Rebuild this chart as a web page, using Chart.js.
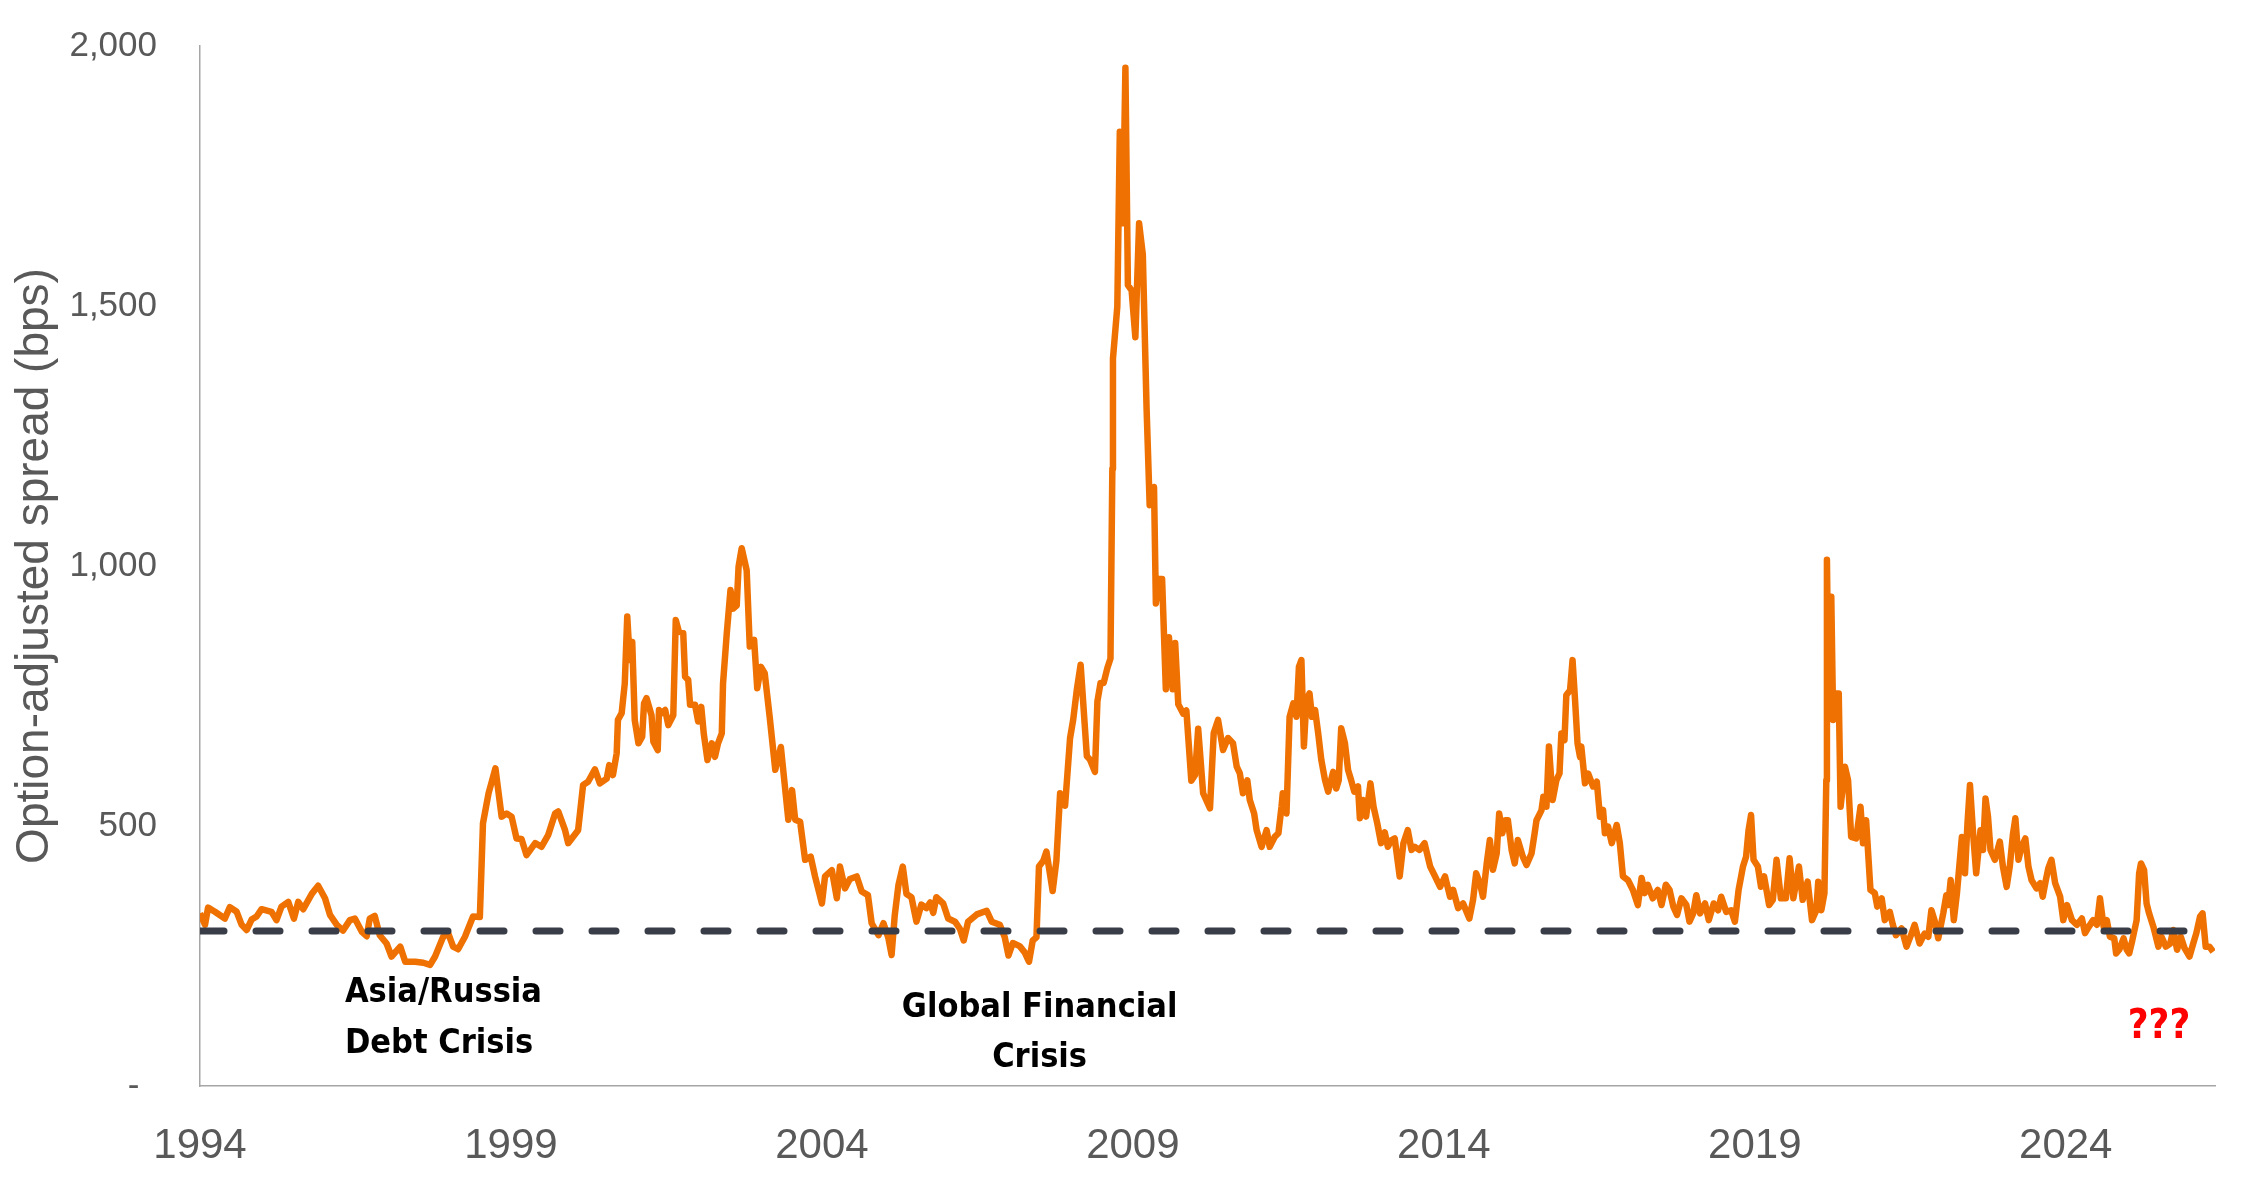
<!DOCTYPE html>
<html>
<head>
<meta charset="utf-8">
<script src="https://cdn.jsdelivr.net/npm/chart.js@4.4.1/dist/chart.umd.min.js"></script>
<style>
  html, body { margin: 0; padding: 0; background: #fff; }
  canvas { display: block; }
</style>
</head>
<body>
<canvas id="oasChart" width="2251" height="1197"></canvas>
<script>
// Option-adjusted spread (decimal year / bps)
const dates = [
  1994.00, 1994.08, 1994.13, 1994.24, 1994.40, 1994.48, 1994.59, 1994.67, 1994.75, 1994.83, 1994.91, 1994.99,
  1995.15, 1995.23, 1995.31, 1995.42, 1995.51, 1995.58, 1995.66, 1995.80, 1995.90,
  1996.01, 1996.09, 1996.20, 1996.30, 1996.41, 1996.49, 1996.60, 1996.68, 1996.73, 1996.81, 1996.89,
  1997.00, 1997.08, 1997.22, 1997.30, 1997.46, 1997.59, 1997.70, 1997.78, 1997.91, 1997.99,
  1998.07, 1998.15, 1998.26, 1998.39, 1998.50, 1998.55, 1998.64, 1998.75, 1998.85, 1998.93,
  1999.01, 1999.09, 1999.17, 1999.25, 1999.39, 1999.49, 1999.60, 1999.71, 1999.76, 1999.87, 1999.92,
  2000.08, 2000.16, 2000.24, 2000.35, 2000.43, 2000.54, 2000.58, 2000.64, 2000.70, 2000.72, 2000.78, 2000.83, 2000.87, 2000.91, 2000.95, 2000.99,
  2001.05, 2001.11, 2001.14, 2001.18, 2001.26, 2001.29, 2001.36, 2001.38, 2001.42, 2001.48, 2001.53, 2001.61, 2001.65, 2001.70, 2001.77, 2001.80, 2001.85, 2001.88, 2001.96,
  2002.01, 2002.06, 2002.10, 2002.16, 2002.23, 2002.28, 2002.33, 2002.39, 2002.41, 2002.47, 2002.53, 2002.57, 2002.63, 2002.66, 2002.71, 2002.79, 2002.84, 2002.91, 2002.96,
  2003.02, 2003.08, 2003.16, 2003.25, 2003.34, 2003.46, 2003.52, 2003.57, 2003.65, 2003.73, 2003.82, 2003.89,
  2004.00, 2004.05, 2004.16, 2004.24, 2004.29, 2004.37, 2004.45, 2004.56, 2004.64, 2004.74, 2004.80, 2004.91, 2004.99,
  2005.07, 2005.12, 2005.17, 2005.23, 2005.30, 2005.36, 2005.44, 2005.52, 2005.60, 2005.68, 2005.74, 2005.79, 2005.84, 2005.95,
  2006.03, 2006.14, 2006.22, 2006.28, 2006.35, 2006.49, 2006.65, 2006.73, 2006.86, 2006.94,
  2007.00, 2007.07, 2007.18, 2007.26, 2007.33, 2007.39, 2007.45, 2007.49, 2007.56, 2007.61, 2007.71, 2007.77, 2007.83, 2007.91, 2007.99,
  2008.04, 2008.10, 2008.16, 2008.20, 2008.26, 2008.31, 2008.39, 2008.43, 2008.48, 2008.53, 2008.59, 2008.64, 2008.67, 2008.68, 2008.75, 2008.79, 2008.84, 2008.88, 2008.92, 2008.98,
  2009.04, 2009.10, 2009.16, 2009.22, 2009.27, 2009.34, 2009.37, 2009.42, 2009.47, 2009.53, 2009.58, 2009.64, 2009.68, 2009.73, 2009.81, 2009.86, 2009.94,
  2010.00, 2010.05, 2010.13, 2010.24, 2010.30, 2010.37, 2010.45, 2010.53, 2010.61, 2010.67, 2010.72, 2010.77, 2010.84, 2010.88, 2010.95, 2010.99,
  2011.07, 2011.15, 2011.20, 2011.28, 2011.34, 2011.39, 2011.41, 2011.47, 2011.52, 2011.58, 2011.63, 2011.67, 2011.71, 2011.75, 2011.79, 2011.84, 2011.88, 2011.93, 2011.98,
  2012.03, 2012.09, 2012.14, 2012.22, 2012.27, 2012.31, 2012.35, 2012.41, 2012.46, 2012.51, 2012.56, 2012.62, 2012.65, 2012.70, 2012.75, 2012.82, 2012.87, 2012.93, 2012.99,
  2013.05, 2013.10, 2013.16, 2013.21, 2013.29, 2013.35, 2013.42, 2013.48, 2013.53, 2013.61, 2013.69, 2013.78, 2013.86, 2013.94,
  2014.02, 2014.10, 2014.15, 2014.23, 2014.31, 2014.41, 2014.47, 2014.52, 2014.58, 2014.63, 2014.69, 2014.74, 2014.79, 2014.85, 2014.89, 2014.94, 2014.99,
  2015.03, 2015.09, 2015.14, 2015.19, 2015.27, 2015.33, 2015.41, 2015.46, 2015.49, 2015.57, 2015.60, 2015.65, 2015.69, 2015.75, 2015.81, 2015.86, 2015.89, 2015.94, 2015.97,
  2016.03, 2016.07, 2016.11, 2016.15, 2016.19, 2016.21, 2016.27, 2016.32, 2016.40, 2016.46, 2016.51, 2016.56, 2016.59, 2016.64, 2016.70, 2016.78, 2016.83, 2016.88, 2016.96,
  2017.04, 2017.12, 2017.18, 2017.23, 2017.28, 2017.36, 2017.44, 2017.50, 2017.57, 2017.63, 2017.69, 2017.75, 2017.82, 2017.90, 2017.95,
  2018.01, 2018.06, 2018.12, 2018.20, 2018.26, 2018.34, 2018.41, 2018.46, 2018.54, 2018.62, 2018.68, 2018.74, 2018.81, 2018.86, 2018.90, 2018.94, 2018.98,
  2019.05, 2019.10, 2019.15, 2019.23, 2019.29, 2019.35, 2019.42, 2019.50, 2019.56, 2019.62, 2019.71, 2019.77, 2019.85, 2019.92, 2019.99,
  2020.02, 2020.07, 2020.12, 2020.15, 2020.16, 2020.19, 2020.23, 2020.26, 2020.31, 2020.35, 2020.38, 2020.45, 2020.50, 2020.55, 2020.63, 2020.70, 2020.74, 2020.79, 2020.86, 2020.93, 2020.97,
  2021.04, 2021.09, 2021.17, 2021.22, 2021.27, 2021.36, 2021.44, 2021.52, 2021.57, 2021.65, 2021.73, 2021.79, 2021.84, 2021.89, 2021.95,
  2022.03, 2022.08, 2022.11, 2022.15, 2022.20, 2022.25, 2022.33, 2022.38, 2022.42, 2022.46, 2022.51, 2022.56, 2022.63, 2022.67, 2022.71, 2022.75, 2022.79, 2022.86, 2022.94, 2022.99,
  2023.05, 2023.10, 2023.15, 2023.19, 2023.24, 2023.29, 2023.35, 2023.40, 2023.45, 2023.53, 2023.59, 2023.63, 2023.68, 2023.72, 2023.77, 2023.83, 2023.91, 2023.96,
  2024.02, 2024.10, 2024.18, 2024.26, 2024.31, 2024.37, 2024.44, 2024.50, 2024.55, 2024.61, 2024.66, 2024.71, 2024.78, 2024.81, 2024.86, 2024.93, 2024.98,
  2025.02, 2025.07, 2025.14, 2025.18, 2025.21, 2025.26, 2025.30, 2025.34, 2025.41, 2025.49, 2025.54, 2025.61, 2025.68, 2025.73, 2025.79, 2025.85, 2025.91, 2025.99,
  2026.05, 2026.10, 2026.16, 2026.20, 2026.25, 2026.31, 2026.37
];

const spread = [
  332, 310, 343, 335, 322, 344, 335, 310, 300, 320, 326, 340,
  335, 319, 345, 354, 322, 354, 340, 370, 385,
  361, 329, 310, 299, 319, 322, 297, 288, 322, 327, 290,
  274, 249, 268, 239, 239, 237, 233, 249, 287, 294,
  268, 263, 287, 326, 325, 505, 563, 611, 518, 524,
  518, 476, 475, 444, 467, 460, 483, 524, 528, 492, 467,
  492, 579, 585, 609, 582, 591, 617, 598, 640, 704, 717, 774, 903, 819, 854, 704,
  659, 672, 736, 746, 713, 662, 646, 723, 717, 723, 694, 713, 896, 874, 871, 787, 781, 733, 733,
  701, 729, 678, 627, 659, 633, 659, 678, 774, 870, 954, 918, 924, 999, 1034, 992, 845, 858, 765,
  806, 794, 710, 608, 652, 512, 569, 512, 508, 435, 441, 403,
  351, 403, 415, 361, 422, 380, 398, 403, 374, 367, 313, 290, 313,
  284, 252, 327, 386, 422, 369, 363, 316, 349, 342, 353, 333, 363, 351,
  322, 316, 302, 280, 316, 330, 337, 316, 310, 286,
  251, 275, 269, 257, 239, 280, 286, 422, 433, 451, 375, 433, 563, 539, 669,
  704, 763, 810, 740, 634, 628, 604, 740, 775, 775, 804, 822, 1187, 1399, 1499, 1835, 1659, 1958, 1540, 1530,
  1440, 1659, 1599, 1305, 1117, 1152, 928, 975, 975, 763, 863, 763, 852, 734, 716, 722, 587,
  598, 687, 563, 534, 679, 704, 646, 669, 659, 614, 601, 563, 588, 550, 524, 492,
  460, 492, 460, 479, 486, 537, 563, 524, 710, 736, 710, 806, 819, 653, 742, 755, 710, 723, 678,
  627, 588, 566, 604, 572, 588, 688, 659, 608, 588, 566, 576, 515, 550, 518, 582, 537, 505, 467,
  488, 460, 473, 476, 403, 467, 492, 454, 460, 454, 467, 422, 403, 383,
  403, 364, 377, 342, 351, 322, 358, 409, 390, 364, 428, 473, 416, 447, 524, 486, 511,
  511, 454, 428, 473, 441, 425, 447, 486, 511, 530, 556, 537, 653, 550, 588, 601, 678, 665, 752,
  761, 819, 742, 659, 633, 653, 582, 601, 576, 585, 518, 531, 486, 499, 467, 502, 467, 403, 396,
  377, 348, 400, 371, 387, 361, 377, 348, 387, 377, 345, 329, 361, 348, 316,
  332, 367, 332, 351, 319, 351, 338, 364, 335, 338, 316, 377, 422, 441, 492, 521, 435,
  422, 383, 403, 348, 358, 435, 361, 361, 438, 361, 422, 358, 393, 319, 338,
  393, 338, 371, 588, 1012, 717, 941, 704, 755, 755, 537, 614, 588, 479, 476, 537, 467, 511, 377, 371, 345,
  361, 319, 335, 310, 290, 303, 268, 293, 310, 274, 293, 287, 338, 319, 284,
  332, 367, 348, 396, 319, 370, 479, 409, 505, 579, 486, 409, 492, 454, 553, 518, 454, 435, 470, 422,
  383, 422, 483, 515, 435, 460, 476, 422, 396, 380, 390, 364, 396, 419, 435, 390, 364, 319,
  348, 319, 310, 322, 294, 306, 319, 310, 361, 306, 319, 287, 284, 255, 262, 284, 262,
  255, 280, 319, 409, 428, 415, 351, 332, 306, 268, 287, 268, 274, 300, 262, 287, 265, 249,
  274, 294, 326, 332, 268, 268, 258
];

const avgSpread = 298;
const xStart = 1994;
const xEnd = 2026.4;
const tickYears = [1994, 1999, 2004, 2009, 2014, 2019, 2024];
const tickValues = [0, 500, 1000, 1500, 2000];

const notes = [
  { lines: ['Asia/Russia', 'Debt Crisis'], year: 1996.33, values: [179, 81], align: 'left', size: 34, color: '#000000' },
  { lines: ['Global Financial', 'Crisis'], year: 2007.5, values: [150, 54], align: 'center', size: 34, color: '#000000' },
  { lines: ['???'], year: 2025.5, values: [113], align: 'center', size: 40, color: '#FF0000' }
];

const AXIS_GREY = '#595959';
const NOTE_FONT = '"DejaVu Sans Condensed", "Liberation Sans Narrow", sans-serif';

// text labels placed in data coordinates
const notesPlugin = {
  id: 'notes',
  afterDatasetsDraw(chart) {
    const { ctx, scales: { x, y } } = chart;
    ctx.save();
    ctx.textBaseline = 'middle';
    notes.forEach(n => {
      ctx.font = 'bold ' + n.size + 'px ' + NOTE_FONT;
      ctx.fillStyle = n.color;
      ctx.textAlign = n.align;
      n.lines.forEach((line, i) => {
        ctx.fillText(line, x.getPixelForValue(n.year), y.getPixelForValue(n.values[i]));
      });
    });
    ctx.restore();
  }
};

const ctx = document.getElementById('oasChart').getContext('2d');
new Chart(ctx, {
  type: 'line',
  data: {
    datasets: [
      {
        label: 'OAS',
        data: dates.map((d, i) => ({ x: d, y: spread[i] })),
        borderColor: '#EF7102',
        borderWidth: 6.5,
        borderJoinStyle: 'round',
        pointRadius: 0,
        tension: 0,
        order: 2
      },
      {
        label: 'Average',
        data: [{ x: xStart, y: avgSpread }, { x: xEnd, y: avgSpread }],
        borderColor: '#383D47',
        borderWidth: 7,
        borderDash: [24, 32],
        borderCapStyle: 'round',
        pointRadius: 0,
        order: 1
      }
    ]
  },
  options: {
    responsive: false,
    animation: false,
    devicePixelRatio: 1,
    layout: { padding: { top: 46, right: 36, bottom: 0, left: 0 } },
    plugins: {
      legend: { display: false },
      tooltip: { enabled: false }
    },
    scales: {
      x: {
        type: 'linear',
        min: xStart,
        max: xEnd,
        grid: { display: false, drawTicks: false },
        border: { display: true, color: '#A6A6A6', width: 1.5 },
        afterBuildTicks: scale => { scale.ticks = tickYears.map(v => ({ value: v })); },
        afterFit: scale => { scale.height = 111; },
        ticks: {
          padding: 35,
          color: AXIS_GREY,
          font: { family: '"Liberation Sans", Arial, sans-serif', size: 42 },
          callback: v => String(v)
        }
      },
      y: {
        min: 0,
        max: 2000,
        grid: { display: false, drawTicks: false },
        border: { display: true, color: '#A6A6A6', width: 1.5 },
        afterBuildTicks: scale => { scale.ticks = tickValues.map(v => ({ value: v })); },
        afterFit: scale => {
          // keep the tick padding from pushing the plot area down
          scale.width = 200;
          scale.paddingTop = 0;
          scale.paddingBottom = 0;
        },
        title: {
          display: true,
          text: 'Option-adjusted spread (bps)',
          color: AXIS_GREY,
          font: { family: '"Liberation Sans", Arial, sans-serif', size: 46 },
          padding: { top: 8, bottom: 0 }
        },
        ticks: {
          padding: 43,
          color: AXIS_GREY,
          font: { family: '"Liberation Sans", Arial, sans-serif', size: 35 },
          callback: v => v === 0 ? '-\u2002' : v.toLocaleString('en-US')
        }
      }
    }
  },
  plugins: [notesPlugin]
});
</script>
</body>
</html>
